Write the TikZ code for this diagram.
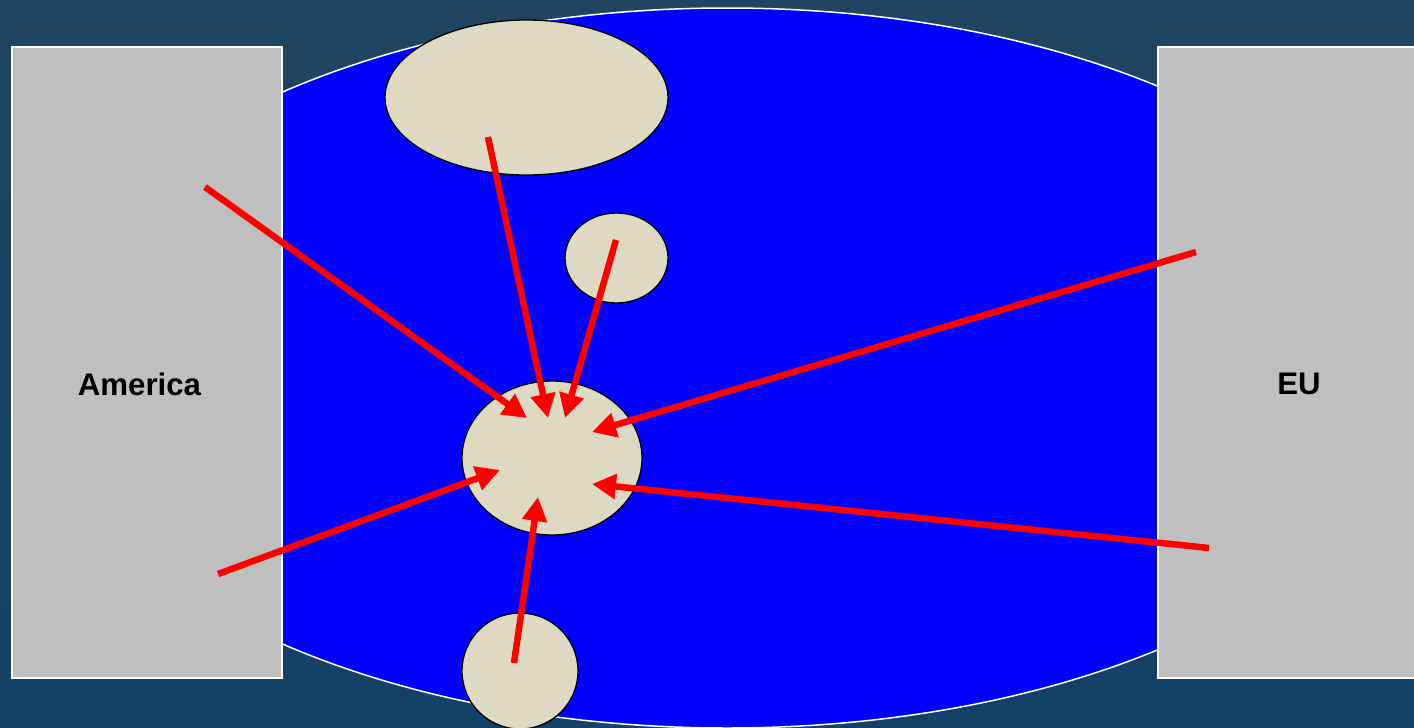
\documentclass[tikz,border=0pt]{standalone}
\usepackage{fontspec}
\setmainfont{Liberation Sans}
\usetikzlibrary{arrows.meta}
\definecolor{bgtop}{RGB}{31,69,98}
\definecolor{bgbot}{RGB}{18,66,102}
\definecolor{beige}{RGB}{221,217,195}
\definecolor{panel}{RGB}{191,191,191}
\definecolor{sea}{RGB}{0,0,255}
\tikzset{
  panelbox/.style={draw=white, line width=1.5pt, fill=panel},
  blob/.style={draw=black, line width=1.3pt, fill=beige},
  flow/.style={draw=red, line width=6.5pt, -{Triangle[length=24pt,width=24pt]}},
  label/.style={font=\bfseries\fontsize{31.2}{34}\selectfont, text=black}
}
\begin{document}
\begin{tikzpicture}[x=1pt,y=-1pt]
\useasboundingbox (0,0) rectangle (1414,728);
\clip (0,0) rectangle (1414,728);
\shade[top color=bgtop, bottom color=bgbot] (0,0) rectangle (1414,728);
% sea
\draw[draw=white, line width=1.5pt, fill=sea] (727,368) ellipse [x radius=692, y radius=360];
% panels
\node[panelbox, minimum width=270pt, minimum height=631pt, inner sep=0pt, anchor=north west] (am) at (11,46) {};
\node[panelbox, minimum width=262pt, minimum height=631pt, inner sep=0pt, anchor=north west] (eu) at (1157,46) {};
\node[label] (amt) at (139.5,384) {America};
\node[label] (eut) at (1299,384) {EU};
% blobs
\draw[blob] (526.5,97.5) ellipse [x radius=141.5, y radius=77.5];
\draw[blob] (616.5,258) ellipse [x radius=51.5, y radius=45];
\draw[blob] (552,458) ellipse [x radius=90, y radius=77];
\draw[blob] (520,671) ellipse [x radius=58, y radius=58];
% connector ends
\coordinate (s1) at (205,187);  \coordinate (e1) at (527,418);
\coordinate (s2) at (488,137);  \coordinate (e2) at (548,418);
\coordinate (s3) at (616,240);  \coordinate (e3) at (565,418);
\coordinate (s4) at (1196,252); \coordinate (e4) at (592,432);
\coordinate (s5) at (218,574);  \coordinate (e5) at (500,470);
\coordinate (s6) at (514,663);  \coordinate (e6) at (538,497);
\coordinate (s7) at (1209,548); \coordinate (e7) at (592,484);
\foreach \i in {1,...,7} \draw[flow] (s\i) -- (e\i);
\end{tikzpicture}
\end{document}
